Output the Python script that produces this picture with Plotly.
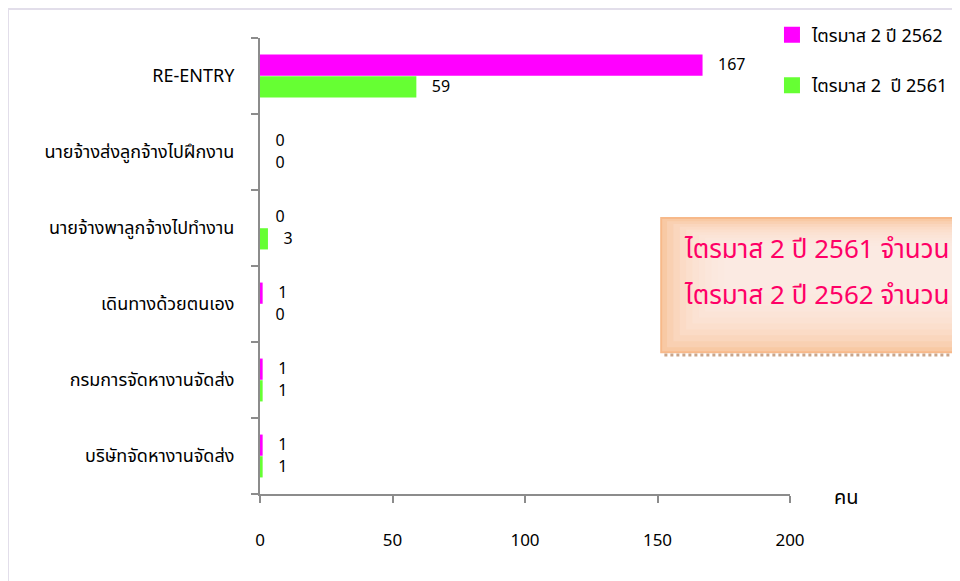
import plotly.graph_objects as go

# categories listed top to bottom as in the source chart
categories = [
    "RE-ENTRY",
    "นายจ้างส่งลูกจ้างไปฝึกงาน",
    "นายจ้างพาลูกจ้างไปทำงาน",
    "เดินทางด้วยตนเอง",
    "กรมการจัดหางานจัดส่ง",
    "บริษัทจัดหางานจัดส่ง",
]
q2_2562 = [167, 0, 0, 1, 1, 1]
q2_2561 = [59, 0, 3, 0, 1, 1]
x_ticks = [0, 50, 100, 150, 200]

name_2562 = "ไตรมาส 2 ปี 2562"
name_2561 = "ไตรมาส 2 \u00a0ปี 2561"
box_lines = ["ไตรมาส 2 ปี 2561 จำนวน", "ไตรมาส 2 ปี 2562 จำนวน"]

FONT = "Tahoma, 'Noto Sans Thai', 'Noto Sans', 'DejaVu Sans', sans-serif"
pad = "\u00a0" * 3
MAGENTA = "#FF00FF"
GREEN = "#66FF33"

fig = go.Figure()

# plotly puts the first trace at the low end of each group, so green goes first
fig.add_trace(go.Bar(
    y=categories, x=q2_2561, orientation="h", name=name_2561,
    marker=dict(color=GREEN, line=dict(width=0)),
    text=[pad + str(v) for v in q2_2561], textposition="outside",
    constraintext="none",
    textfont=dict(size=16, color="#000000"), cliponaxis=False,
    showlegend=False,
))
fig.add_trace(go.Bar(
    y=categories, x=q2_2562, orientation="h", name=name_2562,
    marker=dict(color=MAGENTA, line=dict(width=0)),
    text=[pad + str(v) for v in q2_2562], textposition="outside",
    constraintext="none",
    textfont=dict(size=16, color="#000000"), cliponaxis=False,
    showlegend=False,
))

# legend entries with larger square swatches
for name, col, grp in [(name_2562, MAGENTA, "a"), (name_2561, GREEN, "b")]:
    fig.add_trace(go.Scatter(
        x=[None], y=[None], mode="markers", name=name,
        marker=dict(symbol="square", size=16, color=col),
        legendgroup=grp, showlegend=True,
    ))

fig.update_layout(
    width=960, height=581,
    margin=dict(l=252, r=178, t=30, b=95, autoexpand=False),
    paper_bgcolor="white", plot_bgcolor="white",
    font=dict(family=FONT, size=17, color="#000000"),
    barmode="group", bargap=0.43, bargroupgap=0.02,
    showlegend=True,
    legend=dict(
        x=0.966, y=1.047, xanchor="left", yanchor="top",
        font=dict(size=18), tracegroupgap=24, traceorder="grouped",
        bgcolor="rgba(0,0,0,0)", itemwidth=30,
    ),
    xaxis=dict(
        range=[0, 200], tickvals=x_ticks, showgrid=False, zeroline=False,
        showline=True, linecolor="#8C8C8C", linewidth=2,
        ticks="outside", ticklen=7, tickwidth=2, tickcolor="#8C8C8C",
        ticklabelstandoff=23, tickfont=dict(size=17),
    ),
    yaxis=dict(
        categoryorder="array", categoryarray=categories[::-1],
        showgrid=False, zeroline=False,
        showline=True, linecolor="#8C8C8C", linewidth=2,
        ticks="outside", ticklen=7, tickwidth=2, tickcolor="#8C8C8C",
        tickson="boundaries", ticklabelstandoff=20, tickfont=dict(size=18),
    ),
)

# outer chart frame
fig.add_shape(type="line", xref="paper", yref="paper",
              x0=-0.4755, x1=1.4, y0=1.0636, y1=1.0636,
              line=dict(color="#E2DEEA", width=2), layer="below")
fig.add_shape(type="line", xref="paper", yref="paper",
              x0=-0.4755, x1=-0.4755, y0=-0.25, y1=1.0636,
              line=dict(color="#E2DEEA", width=2), layer="below")

# axis unit label
fig.add_annotation(text="คน", xref="paper", yref="paper", x=1.079, y=-0.009,
                   xanchor="left", yanchor="middle", showarrow=False,
                   font=dict(size=20, color="#000000"))

# peach call-out box (cut off at the right edge, as in the source)
fig.add_shape(type="rect", xref="paper", yref="paper",
              x0=0.757, x1=1.4, y0=0.311, y1=0.605,
              fillcolor="#F8C9A4", line=dict(color="#F7B98A", width=2), layer="above")
for k in range(10):
    fig.add_shape(type="rect", xref="paper", yref="paper",
                  x0=0.768 + k * 0.012, x1=1.4, y0=0.322 + k * 0.013, y1=0.598 - k * 0.006,
                  fillcolor="rgba(255,242,234,0.2)", line=dict(width=0), layer="above")
fig.add_shape(type="line", xref="paper", yref="paper",
              x0=0.763, x1=1.4, y0=0.305, y1=0.305,
              line=dict(color="#C9A58A", width=3, dash="dot"), layer="above")
for i, line in enumerate(box_lines):
    fig.add_annotation(text=line, xref="paper", yref="paper",
                       x=0.796, y=0.535 - i * 0.101, xanchor="left", yanchor="middle",
                       showarrow=False, font=dict(size=26, color="#FF0066"))

fig.write_html("out.html")
